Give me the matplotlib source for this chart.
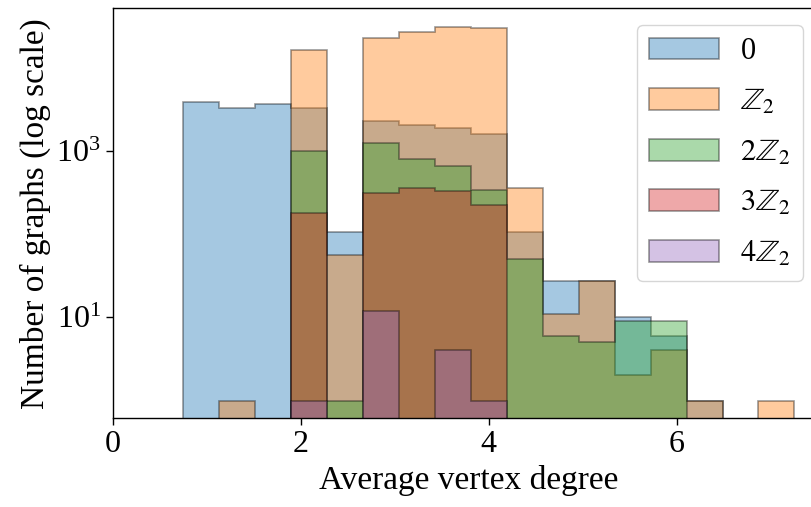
import matplotlib
matplotlib.use("Agg")
import matplotlib.pyplot as plt
import numpy as np
from matplotlib.ticker import NullLocator

plt.rcParams['font.family'] = ['Liberation Serif', 'DejaVu Serif']
plt.rcParams['mathtext.fontset'] = 'stix'

# 17 bins between the smallest and largest average degree
bin_edges = np.linspace(0.75, 7.25, 18)

# counts per bin
counts_0 = [3810, 3230, 3665, 3280, 107, 2290, 2020, 1890, 1600, 105, 27, 27, 10, 6, 1, 0, 0]
counts_z2 = [0, 1, 0, 16200, 56, 22700, 26600, 30500, 29700, 354, 11, 27, 2, 4, 1, 0, 1]
counts_2z2 = [0, 0, 0, 1000, 1, 1226, 802, 655, 337, 50, 6, 5, 9, 9, 0, 0, 0]
counts_3z2 = [0, 0, 0, 180, 0, 313, 360, 328, 225, 0, 0, 0, 0, 0, 0, 0, 0]
counts_4z2 = [0, 0, 0, 1, 0, 12, 0, 4, 1, 0, 0, 0, 0, 0, 0, 0, 0]

labels = ['0', r'$\mathbb{Z}_2$', r'$2\mathbb{Z}_2$', r'$3\mathbb{Z}_2$', r'$4\mathbb{Z}_2$']
series = [counts_0, counts_z2, counts_2z2, counts_3z2, counts_4z2]

centers = 0.5 * (bin_edges[:-1] + bin_edges[1:])

fig = plt.figure(figsize=(8.11, 5.07), dpi=100)
ax = fig.add_axes([112.7 / 811, (507 - 418.3) / 507, (825 - 112.7) / 811, (418.3 - 8) / 507])

for i, (cnt, lab) in enumerate(zip(series, labels)):
    ax.hist(centers, bins=bin_edges, weights=cnt, histtype='stepfilled',
            alpha=0.4, edgecolor='black', linewidth=1.2, color=f'C{i}',
            log=True, label=lab)

ax.set_xlim(0, 7.575)
ax.set_ylim(0.612, 51600)
ax.set_yticks([10, 1000])
ax.yaxis.set_minor_locator(NullLocator())
ax.set_xticks([0, 2, 4, 6])
ax.tick_params(labelsize=23, width=1.0, length=5)
for sp in ax.spines.values():
    sp.set_linewidth(1.0)

ax.set_xlabel('Average vertex degree', fontsize=24)
ax.set_ylabel('Number of graphs (log scale)', fontsize=24)

ax.legend(loc='upper right', bbox_to_anchor=(803 / 811, 1 - 25 / 507),
          bbox_transform=fig.transFigure, borderaxespad=0, fontsize=22,
          handlelength=2.3, handleheight=0.72, handletextpad=0.7,
          labelspacing=0.7)

fig.savefig('out.png', dpi=100)
